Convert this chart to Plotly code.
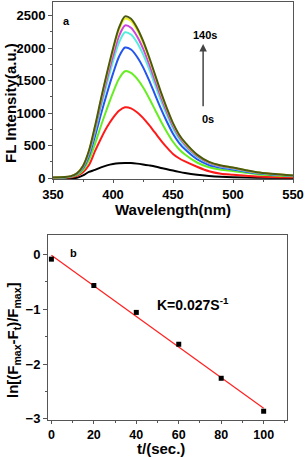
import numpy as np
import plotly.graph_objects as go

# ---- Panel a: fluorescence spectra ----
wavelength = [350, 360, 365, 370, 375, 380, 385, 390, 395, 400, 405, 410, 415, 420,
              425, 430, 435, 440, 445, 450, 455, 460, 470, 480, 490, 500, 520, 550]

spec_0s = [0, 0, 1, 5, 40, 95, 125, 165, 195, 215, 227, 231, 230, 222,
           210, 195, 178, 155, 135, 115, 95, 77, 50, 32, 20, 13, 6, 2]
spec_20s = [4, 7, 13, 33, 90, 200, 414, 610, 785, 927, 1036, 1090, 1074, 1014,
            927, 818, 698, 578, 469, 371, 305, 256, 174, 104, 65, 49, 22, 9]
spec_40s = [7, 10, 20, 49, 123, 280, 526, 806, 1069, 1316, 1530, 1645, 1620, 1530,
            1398, 1234, 1053, 872, 707, 559, 444, 362, 239, 165, 128, 107, 59, 26]
spec_60s = [8, 12, 24, 60, 151, 342, 643, 985, 1307, 1608, 1869, 2010, 1980, 1869,
            1709, 1508, 1286, 1065, 864, 683, 543, 442, 291, 201, 157, 131, 72, 32]
spec_80s = [9, 13, 27, 67, 168, 382, 718, 1100, 1459, 1796, 2088, 2245, 2211, 2088,
            1908, 1684, 1437, 1190, 965, 763, 606, 494, 326, 225, 175, 146, 81, 36]
spec_100s = [9, 14, 28, 71, 176, 400, 752, 1152, 1528, 1880, 2186, 2350, 2315, 2186,
             1998, 1763, 1504, 1246, 1011, 799, 635, 517, 341, 235, 183, 153, 85, 38]
spec_120s = [10, 15, 29, 74, 184, 417, 786, 1203, 1596, 1964, 2283, 2455, 2418, 2283,
             2087, 1841, 1571, 1301, 1056, 835, 663, 540, 356, 246, 191, 160, 88, 39]
spec_140s = [10, 15, 30, 75, 187, 423, 797, 1220, 1619, 1992, 2316, 2490, 2453, 2316,
             2117, 1868, 1594, 1320, 1071, 847, 672, 548, 361, 249, 194, 162, 90, 40]

spectra = [spec_0s, spec_20s, spec_40s, spec_60s, spec_80s, spec_100s, spec_120s, spec_140s]
spec_names = ["0s", "20s", "40s", "60s", "80s", "100s", "120s", "140s"]
spec_colors = ["#000000", "#ff1a1a", "#66ee22", "#2255ee", "#55eedd", "#cc44dd", "#eeee22", "#4a5a10"]

# ---- Panel b: kinetics ----
t_sec = [0, 20, 40, 60, 80, 100]
ln_ratio = [-0.09, -0.57, -1.06, -1.64, -2.26, -2.86]

FONT = "Liberation Sans, Arial, sans-serif"

fig = go.Figure()

for ys, nm, col in zip(spectra, spec_names, spec_colors):
    fig.add_trace(go.Scatter(x=wavelength, y=ys, mode="lines", name=nm,
                             line=dict(color=col, width=2, shape="spline", smoothing=0.8),
                             xaxis="x", yaxis="y", showlegend=False))

slope, intercept = np.polyfit(t_sec, ln_ratio, 1)
fit_x = [t_sec[0], t_sec[-1]]
fit_y = [slope * v + intercept for v in fit_x]
fig.add_trace(go.Scatter(x=fit_x, y=fit_y, mode="lines",
                         line=dict(color="#ff2020", width=1.2),
                         xaxis="x2", yaxis="y2", showlegend=False))
fig.add_trace(go.Scatter(x=t_sec, y=ln_ratio, mode="markers",
                         marker=dict(symbol="square", size=5, color="#000000"),
                         xaxis="x2", yaxis="y2", showlegend=False))

axis_common = dict(showline=True, linecolor="#555555", linewidth=1, mirror=True,
                   ticks="outside", tickwidth=1, tickcolor="#555555",
                   showgrid=False, zeroline=False, automargin=False)
tf13 = dict(family=FONT, size=13, color="#000000", weight="bold")
tf12 = dict(family=FONT, size=12.5, color="#000000", weight="bold")

fig.update_layout(
    width=305, height=457,
    margin=dict(l=0, r=0, t=0, b=0, autoexpand=False),
    paper_bgcolor="white", plot_bgcolor="white",
    xaxis=dict(domain=[53/305, 293/305], anchor="y", range=[350, 550],
               tickvals=[350, 400, 450, 500, 550], ticklen=3, tickfont=tf13,
               minor=dict(ticks="outside", ticklen=2, dtick=25, tickcolor="#555555"),
               **axis_common),
    yaxis=dict(domain=[1 - 179/457, 1 - 2/457], anchor="x", range=[-15, 2712],
               tickvals=[0, 500, 1000, 1500, 2000, 2500], ticklen=4, tickfont=tf13,
               minor=dict(ticks="outside", ticklen=2, dtick=250, tickcolor="#555555"),
               **axis_common),
    xaxis2=dict(domain=[48/305, 287/305], anchor="y2", range=[-1.6, 111],
                tickvals=[0, 20, 40, 60, 80, 100], ticklen=3, tickfont=tf12,
                minor=dict(ticks="outside", ticklen=2, dtick=10, tickcolor="#555555"),
                **axis_common),
    yaxis2=dict(domain=[1 - 420/457, 1 - 235/457], anchor="x2", range=[-3.02, 0.35],
                tickvals=[0, -1, -2, -3], ticklen=4, tickfont=tf13,
                minor=dict(ticks="outside", ticklen=2, dtick=0.5, tickcolor="#555555"),
                **axis_common),
)

title_font = dict(family=FONT, size=15, color="#000000", weight="bold")
small_bold = dict(family=FONT, size=11, color="#000000", weight="bold")
C = dict(xanchor="center", yanchor="middle")

annotations = [
    # panel a titles
    dict(text="Wavelength(nm)", x=173/305, y=1 - 209/457, xref="paper", yref="paper",
         showarrow=False, font=title_font, **C),
    dict(text="FL Intensity(a.u.)", x=10/305, y=1 - 103/457, xref="paper", yref="paper",
         showarrow=False, textangle=-90, font=title_font, **C),
    dict(text="a", x=361, y=2420, xref="x", yref="y", showarrow=False, font=small_bold, **C),
    dict(text="140s", x=476.8, y=2200, xref="x", yref="y", showarrow=False, font=small_bold, **C),
    dict(text="0s", x=479.5, y=911, xref="x", yref="y", showarrow=False, font=small_bold, **C),
    dict(text="", x=475.1, y=2066, ax=475.1, ay=1082, xref="x", yref="y",
         axref="x", ayref="y", showarrow=True, arrowhead=2, arrowsize=1,
         arrowwidth=1.5, arrowcolor="#444444"),
    # panel b titles
    dict(text="t/(sec.)", x=161/305, y=1 - 448.5/457, xref="paper", yref="paper",
         showarrow=False, font=title_font, **C),
    dict(text="ln[(F<sub>max</sub>-F<sub>t</sub>)/F<sub>max</sub>]", x=13/305, y=1 - 340/457,
         xref="paper", yref="paper", showarrow=False, textangle=-90, font=title_font, **C),
    dict(text="b", x=10.5, y=0.02, xref="x2", yref="y2", showarrow=False, font=small_bold, **C),
    dict(text="K=0.027S<sup>-1</sup>", x=48.6, y=-0.9, xref="x2", yref="y2",
         xanchor="left", yanchor="middle", showarrow=False,
         font=dict(family=FONT, size=14, color="#000000", weight="bold")),
]
fig.update_layout(annotations=annotations)

fig.write_html("out.html", config={"displayModeBar": False},
               post_script="document.body.style.margin='0';document.body.style.overflow='hidden';")
